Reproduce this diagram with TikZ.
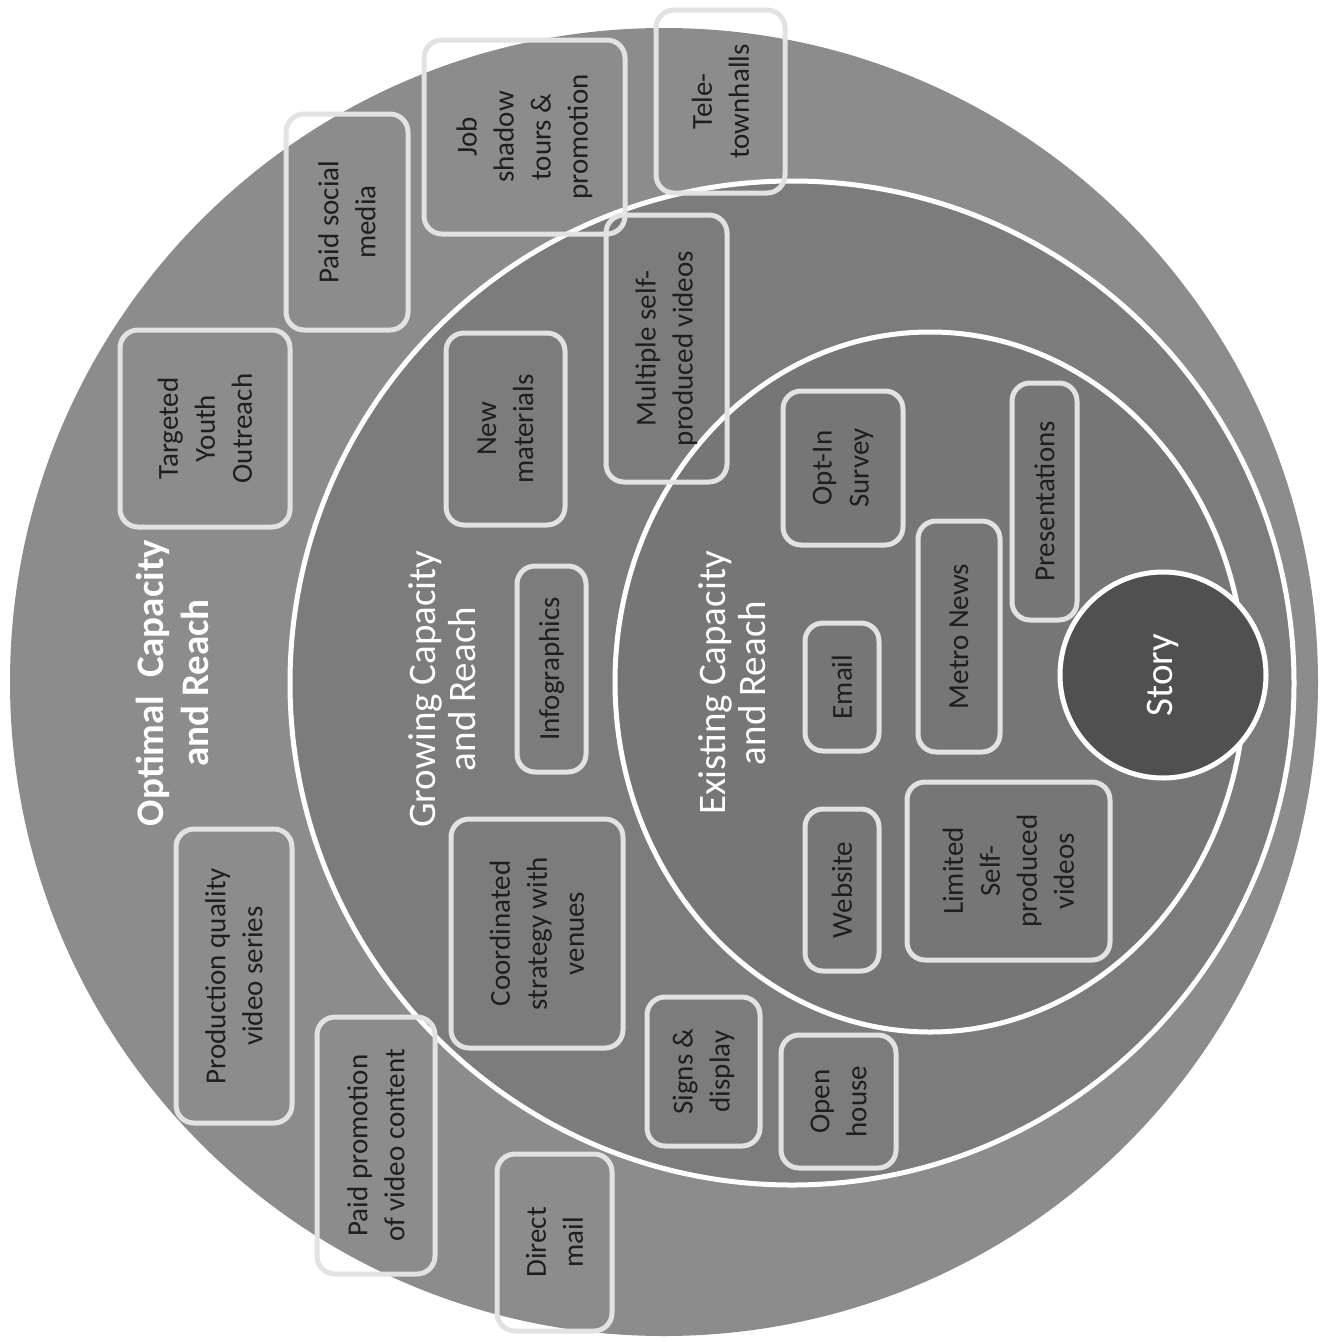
\documentclass[tikz,border=0pt]{standalone}
\usepackage{fontspec}
\setmainfont{Carlito}
\definecolor{outerg}{HTML}{8C8C8C}
\definecolor{midg}{HTML}{7C7C7C}
\definecolor{innerg}{HTML}{767676}
\definecolor{storyg}{HTML}{505050}
\definecolor{boxline}{HTML}{E2E2E2}
\definecolor{boxtext}{HTML}{1E1E1E}
\begin{document}
\begin{tikzpicture}[x=1pt,y=-1pt,
  ring/.style={draw=white, line width=5pt},
  itembox/.style={draw=boxline, line width=5pt, rounded corners=18pt, rotate=90,
    align=center, text=boxtext, inner sep=0pt, font=\fontsize{29}{37}\selectfont},
  lbl/.style={text=white, align=center, rotate=90, inner sep=0pt},
  lblbig/.style={lbl, font=\fontsize{39}{45}\selectfont\bfseries},
  lblreg/.style={lbl, font=\fontsize{39}{40}\selectfont}]
\fill[white] (0,0) rectangle (1323,1342);
\useasboundingbox (0,0) rectangle (1323,1342);
% rings
\fill[outerg] (664,682) circle[radius=654];
\filldraw[fill=midg, ring] (792,683) circle[radius=502];
\filldraw[fill=innerg, ring] (930,682) ellipse[x radius=315, y radius=350];
\node[circle, fill=storyg, draw=white, line width=5pt, minimum size=206pt, inner sep=0pt] (story) at (1163,675) {};
\node[lblreg] (storytxt) at (story) {Story};
% boxes (minimum width = vertical extent, minimum height = horizontal extent)
\node[itembox, minimum width=183pt, minimum height=129pt] (tele) at (720.5,101.5) {Tele-\\townhalls};
\node[itembox, minimum width=194pt, minimum height=201pt] (job) at (524.5,137) {Job\\shadow\\tours \&\\promotion};
\node[itembox, minimum width=216pt, minimum height=122pt] (paidsocial) at (347,222) {Paid social\\media};
\node[itembox, minimum width=197pt, minimum height=170pt] (targeted) at (205,428.5) {Targeted\\Youth\\Outreach};
\node[itembox, minimum width=192pt, minimum height=119pt] (newmat) at (505.5,429) {New\\materials};
\node[itembox, minimum width=267pt, minimum height=121pt] (multiple) at (666.5,348.5) {Multiple self-\\produced videos};
\node[itembox, minimum width=154pt, minimum height=120pt] (optin) at (843,468) {Opt-In\\Survey};
\node[itembox, minimum width=237pt, minimum height=65pt] (present) at (1044.5,501.5) {Presentations};
\node[itembox, minimum width=206pt, minimum height=69pt] (infograph) at (551.5,669) {Infographics};
\node[itembox, minimum width=128pt, minimum height=74pt] (email) at (842,687) {Email};
\node[itembox, minimum width=231pt, minimum height=82pt] (metro) at (959,636.5) {Metro News};
\node[itembox, minimum width=294pt, minimum height=116pt] (production) at (234,976) {Production quality\\video series};
\node[itembox, minimum width=229pt, minimum height=172pt] (coord) at (537,933.5) {Coordinated\\strategy with\\venues};
\node[itembox, minimum width=162pt, minimum height=74pt] (website) at (842,890) {Website};
\node[itembox, minimum width=178pt, minimum height=203pt] (limited) at (1008.5,871) {Limited\\Self-\\produced\\videos};
\node[itembox, minimum width=149pt, minimum height=113pt] (signs) at (703.5,1071.5) {Signs \&\\display};
\node[itembox, minimum width=133pt, minimum height=115pt] (openhouse) at (838.5,1101.5) {Open\\house};
\node[itembox, minimum width=257pt, minimum height=118pt] (paidpromo) at (376,1145.5) {Paid promotion\\of video content};
\node[itembox, minimum width=177pt, minimum height=115pt] (direct) at (554.5,1242.5) {Direct\\mail};
% ring labels
\node[lblbig] (optimal) at (172,683) {Optimal~~Capacity\\and Reach};
\node[lblreg] (growing) at (442,689) {Growing Capacity\\and Reach};
\node[lblreg] (existing) at (732,683) {Existing Capacity\\and Reach};
\end{tikzpicture}
\end{document}
